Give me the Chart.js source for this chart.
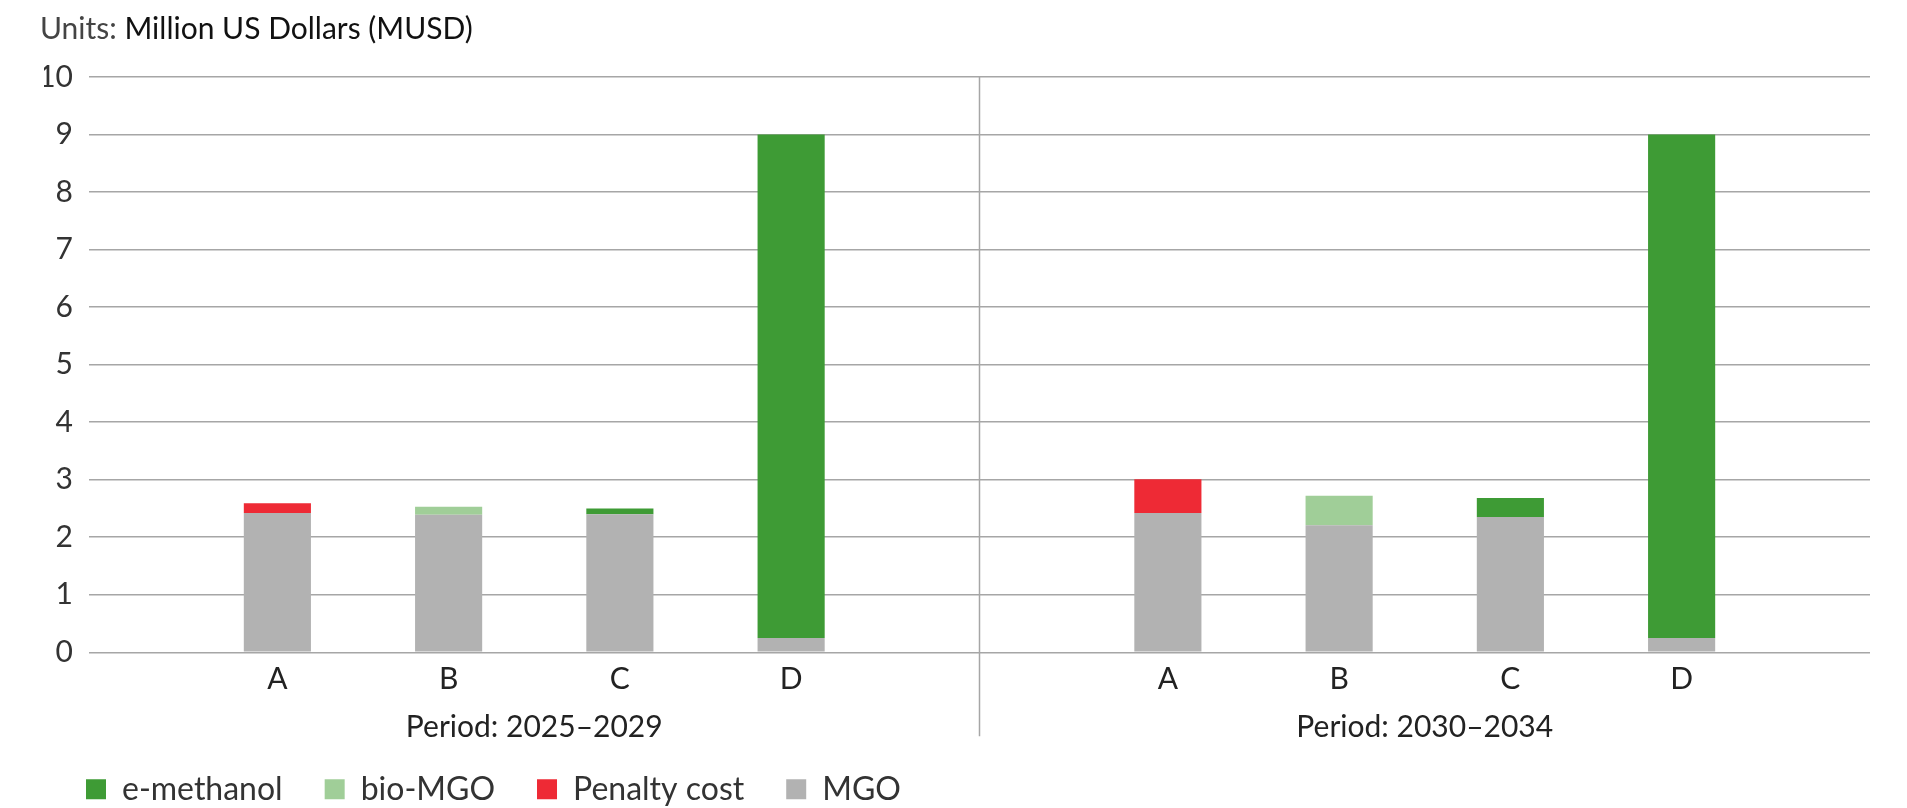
<!DOCTYPE html>
<html>
<head>
<meta charset="utf-8">
<script src="https://cdn.jsdelivr.net/npm/chart.js@4.4.1/dist/chart.umd.min.js"></script>
<style>
  html, body { margin: 0; padding: 0; background: #fff; }
  #wrap { position: relative; width: 1907px; height: 808px; }
  #units { position: absolute; left: 40px; top: 8px; font-family: Lato, sans-serif; font-size: 30px; color: #444; line-height: 38px; }
  #units span { color: #111; }
  canvas { display: block; }
</style>
</head>
<body>
<div id="wrap">
  <div id="units">Units: <span>Million US Dollars (MUSD)</span></div>
  <canvas id="costChart" width="1907" height="808"></canvas>
</div>
<script>
const scenarios = ['A', 'B', 'C', 'D'];
const periods = ['Period: 2025–2029', 'Period: 2030–2034'];

// one value per bar: 2025–2029 A..D, then 2030–2034 A..D
const mgo         = [2.42, 2.39, 2.40, 0.25, 2.42, 2.21, 2.35, 0.25];
const penaltyCost = [0.17, 0,    0,    0,    0.59, 0,    0,    0];
const bioMgo      = [0,    0.14, 0,    0,    0,    0.51, 0,    0];
const eMethanol   = [0,    0,    0.10, 8.75, 0,    0,    0.33, 8.75];

const GROUP_STEP = 5.2;  // distance between A of each period, in bar slots
const EDGE = 1.1;        // space before A / after D

const xPos = [];
periods.forEach((p, g) => scenarios.forEach((s, j) => xPos.push(g * GROUP_STEP + j)));
const toPoints = vals => vals.map((v, i) => ({ x: xPos[i], y: v }));

const font = { family: 'Lato, sans-serif', size: 30 };

const periodDivider = {
    id: 'periodDivider',
    afterDraw(chart) {
        const { ctx, chartArea, scales } = chart;
        const x = scales.period.getPixelForValue(0.5);
        ctx.save();
        ctx.strokeStyle = '#a6a6a6';
        ctx.lineWidth = 1.5;
        ctx.beginPath();
        ctx.moveTo(x, chartArea.top);
        ctx.lineTo(x, scales.period.bottom - 12);
        ctx.stroke();
        ctx.restore();
    }
};

// legend padding is wide for spacing between items; lift the rows back up
const legendLift = {
    id: 'legendLift',
    afterLayout(chart) {
        chart.legend.top -= 17;
    }
};

document.addEventListener('DOMContentLoaded', () => {
    const ctx = document.getElementById('costChart');
    new Chart(ctx, {
        type: 'bar',
        data: {
            datasets: [
                { label: 'MGO', data: toPoints(mgo), backgroundColor: '#b2b2b2' },
                { label: 'Penalty cost', data: toPoints(penaltyCost), backgroundColor: '#ee2a35' },
                { label: 'bio-MGO', data: toPoints(bioMgo), backgroundColor: '#a0ce98' },
                { label: 'e-methanol', data: toPoints(eMethanol), backgroundColor: '#3e9b35' }
            ]
        },
        options: {
            responsive: false,
            animation: false,
            categoryPercentage: 1,
            barPercentage: 0.392,
            layout: { padding: { top: 77, left: 44, right: 37, bottom: 0 } },
            plugins: {
                tooltip: { enabled: false },
                legend: {
                    position: 'bottom',
                    align: 'start',
                    reverse: true,
                    maxHeight: 59.7,
                    labels: {
                        boxWidth: 20,
                        boxHeight: 20,
                        padding: 42,
                        color: '#333',
                        font: { family: 'Lato, sans-serif', size: 32 }
                    }
                }
            },
            scales: {
                x: {
                    type: 'linear',
                    stacked: true,
                    offset: false,
                    min: -EDGE,
                    max: GROUP_STEP + 3 + EDGE,
                    grid: { display: false, drawTicks: false, offset: false },
                    border: { display: false },
                    afterBuildTicks: scale => { scale.ticks = xPos.map(v => ({ value: v })); },
                    ticks: {
                        autoSkip: false,
                        maxRotation: 0,
                        padding: 9,
                        color: '#222',
                        font: font,
                        callback: (value, i) => scenarios[i % scenarios.length]
                    }
                },
                period: {
                    type: 'category',
                    labels: periods,
                    position: 'bottom',
                    offset: true,
                    grid: { display: false, drawTicks: false },
                    border: { display: false },
                    ticks: { padding: 3, color: '#222', font: font }
                },
                y: {
                    stacked: true,
                    min: 0,
                    max: 10,
                    afterFit: scale => { scale.width = 45; },
                    grid: { color: '#a6a6a6', lineWidth: 1.5, drawTicks: false },
                    border: { display: false },
                    ticks: { stepSize: 1, padding: 16, color: '#333', font: font }
                }
            }
        },
        plugins: [periodDivider, legendLift]
    });
});
</script>
</body>
</html>
